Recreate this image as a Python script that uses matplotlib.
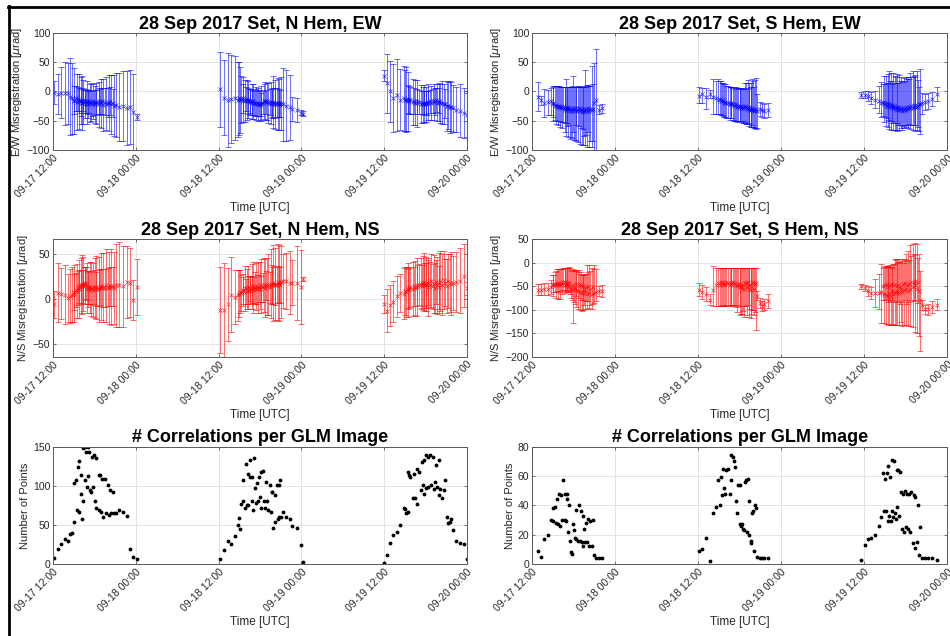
import numpy as np
import matplotlib
matplotlib.use("Agg")
import matplotlib.pyplot as plt
import matplotlib.dates as mdates
from matplotlib.lines import Line2D

plt.rcParams['font.family'] = ['Liberation Sans', 'DejaVu Sans']

# ---------------- data (hours after 2017-09-17 12:00 UTC) ----------------
# northern hemisphere
n_hours = [
    0.1, 0.7, 1.2, 1.7, 2.2, 2.5, 2.8, 3.0, 3.1, 3.3,
    3.5, 3.6, 3.7, 3.8, 4.0, 4.1, 4.2, 4.3, 4.4, 4.6,
    4.7, 4.8, 4.9, 5.0, 5.1, 5.2, 5.4, 5.5, 5.6, 5.8,
    5.9, 6.1, 6.2, 6.3, 6.6, 6.7, 6.8, 7.0, 7.1, 7.3,
    7.6, 7.7, 7.9, 8.1, 8.3, 8.4, 8.7, 8.8, 9.1, 9.6,
    10.2, 10.7, 11.2, 11.6, 12.1,
    24.2, 24.8, 25.3, 25.8, 26.4, 26.8, 27.0, 27.1, 27.3, 27.5,
    27.6, 27.8, 27.9, 28.1, 28.2, 28.3, 28.5, 28.6, 28.8, 28.9,
    29.0, 29.2, 29.3, 29.4, 29.5, 29.7, 29.9, 30.0, 30.1, 30.2,
    30.5, 30.6, 30.7, 30.9, 31.0, 31.1, 31.4, 31.6, 31.7, 31.8,
    31.9, 32.1, 32.2, 32.4, 32.6, 32.7, 32.8, 32.9, 33.0, 33.3,
    33.8, 34.3, 34.7, 35.3, 35.9, 36.3,
    48.0, 48.4, 48.9, 49.3, 49.8, 50.3, 50.8, 51.0, 51.2, 51.4,
    51.5, 51.6, 51.8, 52.2, 52.3, 52.4, 52.7, 52.8, 53.1, 53.3,
    53.5, 53.6, 53.7, 53.8, 54.0, 54.1, 54.3, 54.4, 54.7, 54.8,
    55.0, 55.2, 55.4, 55.5, 55.7, 55.9, 56.0, 56.1, 56.4, 56.6,
    56.8, 57.1, 57.2, 57.5, 57.7, 58.0, 58.4, 59.0, 59.5, 60.0,
]
n_count = [
    8, 19, 25, 32, 29, 38, 40, 103, 54, 107,
    69, 124, 67, 132, 114, 90, 57, 148, 80, 150,
    107, 143, 99, 150, 112, 143, 94, 92, 137, 99,
    139, 81, 135, 72, 114, 69, 114, 67, 109, 60,
    109, 65, 101, 63, 94, 65, 92, 65, 65, 69,
    67, 61, 19, 9, 7,
    6, 18, 30, 25, 36, 50, 59, 45, 77, 80,
    107, 72, 128, 75, 115, 75, 111, 133, 80, 111,
    69, 135, 97, 78, 103, 80, 111, 86, 117, 71,
    119, 80, 71, 105, 80, 69, 101, 67, 92, 92,
    46, 88, 54, 101, 58, 101, 60, 107, 60, 67,
    60, 58, 48, 46, 24, 3,
    1, 12, 27, 37, 41, 50, 71, 70, 65, 118,
    67, 114, 111, 84, 115, 85, 122, 77, 118, 95,
    131, 101, 133, 90, 139, 97, 137, 99, 139, 101,
    137, 96, 105, 126, 99, 88, 133, 96, 84, 94,
    107, 60, 52, 54, 57, 43, 29, 27, 25, 7,
]
n_ew = [
    -2, -4, -2, -3, -3, -9, -12, -14, -16, -12,
    -18, -13, -17, -15, -19, -16, -20, -14, -18, -17,
    -21, -16, -19, -18, -22, -17, -20, -18, -21, -17,
    -19, -22, -18, -20, -16, -22, -18, -20, -17, -23,
    -18, -21, -19, -20, -17, -22, -20, -24, -23, -27,
    -25, -28, -26, -35, -44,
    4, -11, -14, -13, -11, -14, -12, -15, -13, -14,
    -12, -16, -13, -15, -16, -14, -18, -16, -17, -19,
    -17, -20, -19, -21, -20, -22, -21, -23, -22, -20,
    -19, -17, -16, -18, -17, -19, -18, -20, -19, -21,
    -18, -20, -22, -19, -21, -20, -22, -20, -21, -22,
    -24, -27, -30, -32, -36, -38,
    27, 14, 0, -11, -6, -14, -12, -15, -14, -13,
    -17, -14, -15, -18, -16, -19, -17, -20, -18, -21,
    -19, -22, -20, -21, -19, -22, -20, -18, -17, -19,
    -16, -18, -17, -15, -19, -18, -16, -20, -19, -22,
    -21, -25, -24, -27, -26, -29, -31, -33, -37, -40,
]
n_ew_err = [
    20, 34, 44, 54, 52, 66, 60, 24, 56, 22,
    48, 21, 47, 21, 23, 40, 46, 20, 38, 20,
    24, 20, 36, 20, 23, 20, 32, 33, 21, 30,
    21, 32, 21, 35, 22, 38, 22, 42, 22, 45,
    23, 45, 24, 48, 24, 50, 24, 52, 55, 58,
    60, 63, 63, 65, 5,
    64, 64, 80, 75, 72, 64, 62, 56, 40, 38,
    24, 36, 21, 34, 22, 32, 22, 20, 30, 21,
    30, 20, 23, 28, 22, 28, 21, 26, 20, 30,
    20, 30, 32, 21, 32, 34, 22, 36, 24, 25,
    44, 25, 42, 24, 44, 24, 44, 23, 45, 62,
    60, 55, 20, 20, 5, 4,
    10, 50, 52, 58, 62, 52, 56, 52, 55, 24,
    50, 24, 23, 40, 22, 38, 21, 40, 21, 32,
    20, 30, 20, 32, 20, 30, 20, 30, 20, 29,
    20, 30, 23, 20, 32, 33, 21, 33, 36, 34,
    25, 42, 40, 44, 42, 40, 38, 45, 42, 38,
]
n_ns = [
    -6, 7, 6, 5, 1, 3, 5, 8, 6, 10,
    9, 12, 11, 14, 13, 15, 16, 14, 17, 18,
    15, 17, 12, 13, 11, 12, 13, 11, 12, 10,
    13, 12, 11, 13, 12, 11, 13, 14, 12, 13,
    12, 15, 13, 12, 14, 13, 14, 12, 15, 16,
    14, 19, 18, -1, 13,
    -12, -12, -6, 5, 2, 4, 6, 8, 7, 10,
    9, 12, 8, 11, 10, 13, 9, 12, 14, 11,
    13, 10, 12, 14, 11, 13, 12, 15, 11, 14,
    13, 16, 12, 15, 14, 16, 13, 17, 15, 16,
    18, 15, 17, 16, 19, 17, 18, 16, 19, 20,
    20, 18, 18, 18, 13, 22,
    -5, -13, -7, -3, 3, 7, 6, 9, 8, 11,
    10, 12, 13, 11, 14, 12, 15, 13, 16, 17,
    14, 18, 16, 19, 15, 17, 18, 13, 16, 20,
    14, 17, 12, 19, 15, 18, 13, 20, 16, 21,
    18, 14, 20, 18, 17, 18, 19, 20, 26, 12,
]
n_ns_err = [
    15, 33, 28, 33, 27, 30, 30, 20, 32, 19,
    30, 19, 32, 18, 19, 30, 33, 18, 30, 18,
    20, 18, 28, 18, 20, 18, 28, 30, 19, 30,
    19, 33, 19, 35, 20, 36, 20, 37, 21, 38,
    21, 40, 21, 40, 22, 42, 22, 40, 46, 47,
    45, 40, 38, 22, 31,
    48, 52, 40, 42, 30, 28, 26, 24, 20, 18,
    15, 25, 14, 22, 15, 24, 15, 14, 25, 15,
    28, 14, 18, 26, 16, 28, 15, 26, 14, 30,
    16, 30, 32, 16, 32, 34, 17, 38, 20, 22,
    42, 22, 40, 20, 42, 20, 42, 20, 40, 30,
    31, 35, 25, 41, 41, 2,
    10, 24, 23, 23, 23, 21, 28, 27, 28, 22,
    30, 22, 22, 30, 22, 30, 23, 32, 23, 28,
    24, 30, 24, 32, 25, 30, 25, 32, 25, 30,
    25, 32, 28, 24, 32, 33, 24, 33, 34, 32,
    26, 30, 30, 32, 35, 30, 33, 36, 35, 7,
]

# southern hemisphere
s_hours = [
    0.8, 1.25, 1.7, 2.3, 2.7, 3.0, 3.1, 3.3, 3.5, 3.6,
    3.7, 3.9, 4.0, 4.2, 4.4, 4.5, 4.7, 4.8, 4.95, 5.05,
    5.1, 5.2, 5.4, 5.5, 5.6, 5.8, 5.95, 6.05, 6.2, 6.3,
    6.4, 6.7, 6.8, 6.9, 7.1, 7.2, 7.3, 7.4, 7.5, 7.6,
    7.8, 7.9, 8.1, 8.3, 8.4, 8.6, 8.75, 8.9, 9.2, 9.7,
    10.1,
    24.1, 24.6, 25.1, 25.7, 26.2, 26.6, 26.9, 27.1, 27.3, 27.4,
    27.6, 27.8, 27.9, 28.1, 28.3, 28.6, 28.7, 28.8, 29.0, 29.2,
    29.3, 29.5, 29.7, 29.8, 30.0, 30.1, 30.2, 30.3, 30.5, 30.7,
    30.8, 31.0, 31.1, 31.2, 31.3, 31.4, 31.6, 31.7, 31.8, 32.0,
    32.1, 32.3, 32.4, 32.5, 32.9, 33.2, 33.6, 34.1,
    47.6, 48.1, 48.6, 49.0, 49.6, 50.1, 50.5, 50.8, 50.9, 51.0,
    51.2, 51.3, 51.4, 51.5, 51.6, 51.8, 51.9, 52.0, 52.1, 52.2,
    52.3, 52.4, 52.6, 52.7, 52.8, 52.9, 53.0, 53.2, 53.3, 53.5,
    53.6, 53.7, 53.9, 54.0, 54.2, 54.4, 54.5, 54.7, 54.8, 55.0,
    55.2, 55.3, 55.4, 55.6, 55.8, 55.9, 56.1, 56.3, 56.8, 57.3,
    57.8, 58.5,
]
s_count = [
    9, 5, 17, 20, 30, 38, 29, 39, 28, 44,
    27, 48, 26, 47, 30, 57, 30, 48, 29, 48,
    44, 22, 40, 16, 8, 7, 27, 23, 18, 37,
    17, 16, 40, 16, 36, 15, 33, 12, 24, 15,
    28, 15, 31, 12, 29, 12, 30, 6, 4, 4,
    4,
    9, 10, 18, 2, 35, 39, 57, 40, 59, 47,
    65, 52, 48, 64, 65, 48, 57, 74, 73, 70,
    66, 43, 35, 54, 27, 54, 26, 27, 24, 23,
    56, 57, 22, 58, 20, 43, 14, 16, 35, 36,
    9, 40, 38, 5, 4, 4, 4, 4,
    3, 13, 17, 18, 20, 26, 32, 62, 36, 58,
    36, 62, 29, 67, 33, 59, 29, 36, 71, 32,
    70, 35, 31, 64, 39, 64, 33, 63, 49, 24,
    48, 22, 50, 25, 48, 24, 48, 22, 49, 14,
    47, 11, 46, 15, 40, 6, 25, 4, 4, 4,
    4, 3,
]
s_ew = [
    -10, -15, -19, -18, -16, -20, -22, -24, -23, -26,
    -24, -25, -27, -26, -28, -27, -30, -28, -31, -27,
    -29, -32, -28, -33, -30, -33, -29, -32, -30, -28,
    -33, -31, -29, -34, -30, -33, -30, -35, -31, -33,
    -30, -34, -29, -33, -30, -32, -30, -20, -15, -31,
    -29,
    -7, -4, -10, -4, -10, -12, -14, -13, -16, -15,
    -17, -19, -18, -20, -19, -22, -21, -20, -22, -23,
    -24, -22, -26, -25, -27, -24, -28, -26, -29, -27,
    -25, -27, -30, -26, -31, -28, -32, -30, -29, -31,
    -33, -30, -32, -34, -30, -32, -33, -32,
    -6, -6, -8, -11, -14, -16, -20, -18, -22, -19,
    -24, -20, -25, -21, -26, -22, -27, -24, -23, -28,
    -24, -29, -30, -26, -31, -27, -32, -28, -30, -33,
    -29, -32, -28, -31, -27, -30, -26, -29, -25, -28,
    -24, -27, -23, -26, -25, -22, -22, -20, -18, -16,
    -13, -4,
]
s_ew_lo = [
    23, 8, 25, 22, 25, 24, 28, 24, 32, 24,
    34, 25, 33, 26, 35, 25, 40, 26, 45, 27,
    30, 46, 30, 48, 47, 46, 40, 50, 52, 30,
    52, 55, 30, 56, 32, 58, 34, 57, 45, 58,
    45, 60, 40, 62, 55, 62, 55, 80, 85, 8,
    8,
    12, 15, 20, 8, 28, 26, 25, 26, 24, 25,
    25, 24, 26, 25, 26, 26, 25, 25, 26, 27,
    26, 28, 26, 25, 24, 26, 24, 25, 24, 26,
    27, 28, 26, 27, 28, 28, 28, 30, 28, 30,
    30, 32, 32, 28, 12, 12, 12, 12,
    5, 6, 8, 10, 15, 20, 24, 24, 30, 25,
    35, 26, 36, 27, 38, 28, 38, 30, 28, 38,
    30, 36, 35, 28, 36, 30, 34, 30, 32, 32,
    30, 30, 30, 30, 30, 32, 30, 35, 32, 38,
    33, 40, 34, 40, 36, 45, 50, 18, 14, 14,
    12, 12,
]
s_ew_hi = [
    26, 8, 23, 20, 22, 30, 30, 33, 32, 35,
    33, 34, 35, 34, 36, 35, 38, 36, 52, 35,
    37, 40, 36, 40, 38, 42, 55, 40, 38, 36,
    40, 40, 38, 42, 38, 40, 38, 42, 40, 70,
    38, 45, 40, 42, 40, 75, 42, 68, 88, 8,
    8,
    14, 10, 15, 6, 32, 30, 36, 30, 34, 30,
    32, 32, 30, 30, 28, 30, 28, 27, 28, 30,
    28, 30, 32, 30, 32, 28, 34, 30, 33, 32,
    40, 42, 34, 45, 36, 42, 40, 45, 50, 48,
    40, 50, 55, 30, 12, 12, 12, 12,
    5, 6, 8, 10, 15, 26, 36, 30, 48, 32,
    50, 35, 55, 36, 60, 40, 58, 36, 40, 60,
    38, 55, 55, 40, 60, 42, 60, 45, 55, 50,
    45, 55, 45, 55, 48, 55, 48, 60, 50, 62,
    50, 55, 48, 60, 45, 30, 60, 18, 14, 14,
    12, 12,
]
s_ns = [
    -57, -57, -55, -55, -52, -45, -48, -44, -47, -42,
    -46, -43, -48, -42, -45, -40, -47, -41, -48, -42,
    -44, -50, -43, -52, -55, -58, -48, -54, -56, -45,
    -58, -60, -46, -62, -48, -63, -50, -65, -55, -62,
    -52, -66, -50, -64, -55, -66, -52, -64, -62, -60,
    -60,
    -57, -62, -66, -78, -57, -48, -42, -47, -40, -45,
    -42, -46, -44, -41, -43, -47, -44, -42, -40, -43,
    -45, -48, -50, -44, -52, -45, -50, -53, -48, -55,
    -43, -42, -52, -40, -55, -46, -58, -50, -42, -40,
    -55, -44, -42, -70, -85, -92, -88, -81,
    -50, -53, -60, -64, -64, -64, -62, -50, -66, -48,
    -68, -45, -70, -52, -65, -48, -70, -60, -45, -66,
    -48, -62, -65, -50, -60, -46, -64, -52, -55, -62,
    -45, -58, -42, -55, -48, -60, -44, -56, -40, -52,
    -42, -48, -38, -55, -40, -60, -78, -90, -99, -99,
    -94, -89,
]
s_ns_lo = [
    12, 12, 13, 13, 15, 18, 23, 18, 28, 17,
    30, 18, 28, 18, 22, 17, 18, 16, 15, 16,
    16, 12, 16, 14, 20, 22, 80, 30, 32, 25,
    35, 38, 28, 38, 30, 40, 30, 36, 35, 37,
    30, 33, 32, 33, 35, 33, 35, 22, 20, 10,
    12,
    14, 14, 15, 12, 35, 44, 50, 45, 52, 45,
    50, 46, 47, 48, 47, 45, 47, 48, 50, 47,
    47, 45, 55, 45, 58, 47, 58, 55, 55, 60,
    48, 50, 60, 50, 60, 52, 60, 58, 58, 60,
    55, 60, 100, 10, 10, 10, 12, 14,
    5, 7, 10, 12, 30, 35, 66, 30, 62, 30,
    62, 32, 62, 32, 66, 33, 62, 70, 34, 66,
    35, 70, 68, 34, 72, 36, 68, 36, 70, 72,
    38, 75, 38, 78, 40, 74, 40, 78, 40, 85,
    40, 100, 42, 95, 45, 95, 110, 10, 10, 12,
    12, 12,
]
s_ns_hi = [
    12, 12, 13, 13, 15, 20, 23, 25, 30, 28,
    32, 30, 34, 30, 32, 30, 36, 30, 38, 32,
    34, 40, 34, 42, 40, 40, 35, 38, 38, 30,
    40, 40, 30, 38, 28, 38, 25, 40, 30, 38,
    28, 62, 30, 60, 38, 55, 40, 60, 50, 10,
    12,
    14, 14, 15, 12, 50, 38, 32, 36, 30, 35,
    32, 36, 34, 31, 33, 37, 34, 32, 30, 33,
    35, 38, 40, 34, 42, 35, 40, 43, 38, 45,
    33, 32, 42, 30, 45, 36, 48, 40, 32, 30,
    45, 34, 32, 10, 10, 10, 12, 14,
    5, 7, 10, 12, 30, 40, 60, 40, 58, 42,
    60, 38, 62, 45, 60, 40, 62, 50, 40, 64,
    45, 70, 72, 50, 68, 48, 72, 55, 60, 70,
    45, 65, 50, 75, 52, 85, 50, 95, 55, 92,
    60, 90, 55, 95, 50, 80, 60, 10, 10, 12,
    12, 12,
]

t0 = np.datetime64('2017-09-17T12:00')
t_end = np.datetime64('2017-09-20T00:00')
tick_times = [t0 + np.timedelta64(12 * k, 'h') for k in range(6)]


def to_time(hours):
    return t0 + (np.array(hours) * 60).round().astype(int).astype('timedelta64[m]')


n_t = to_time(n_hours)
s_t = to_time(s_hours)

# ---------------- figure ----------------
fig = plt.figure(figsize=(9.5, 6.36), dpi=100)
lefts = [0.0558, 0.56]
bottoms = [0.764, 0.439, 0.1132]
w = [0.4358, 0.437]
h = 0.1845

axes = [[fig.add_axes([lefts[c], bottoms[r], w[c], h]) for c in range(2)] for r in range(3)]

grey = '#262626'


def style(ax, title, ylabel, ylim, yticks):
    ax.set_xlim(t0, t_end)
    ax.set_xticks(tick_times)
    ax.xaxis.set_major_formatter(mdates.DateFormatter('%m-%d %H:%M'))
    ax.set_ylim(*ylim)
    ax.set_yticks(yticks)
    ax.grid(True, color='#e3e3e3', linewidth=0.7)
    ax.set_axisbelow(True)
    for s in ax.spines.values():
        s.set_color('#5a5a5a')
        s.set_linewidth(0.7)
    ax.tick_params(direction='in', top=True, right=True, length=2.5, width=0.6,
                   color='#5a5a5a', labelsize=7.5, labelcolor=grey, pad=2)
    for lab in ax.get_xticklabels():
        lab.set_rotation(45)
        lab.set_ha('right')
        lab.set_rotation_mode('anchor')
    ax.set_title(title, fontsize=13, fontweight='bold', pad=3)
    ax.set_ylabel(ylabel, fontsize=8, color=grey, labelpad=2)
    ax.set_xlabel('Time [UTC]', fontsize=8.5, color=grey, labelpad=2)


def err(ax, t, y, yerr, color):
    ax.errorbar(t, y, yerr=yerr, fmt='x', color=color, ecolor=color,
                elinewidth=0.5, capsize=2, capthick=0.5, markersize=3,
                markeredgewidth=0.5, alpha=0.8)


err(axes[0][0], n_t, n_ew, n_ew_err, 'blue')
style(axes[0][0], '28 Sep 2017 Set, N Hem, EW', r'E/W Misregistration [$\mu$rad]',
      (-100, 100), [-100, -50, 0, 50, 100])

err(axes[0][1], s_t, s_ew, [s_ew_lo, s_ew_hi], 'blue')
style(axes[0][1], '28 Sep 2017 Set, S Hem, EW', r'E/W Misregistration [$\mu$rad]',
      (-100, 100), [-100, -50, 0, 50, 100])

err(axes[1][0], n_t, n_ns, n_ns_err, 'red')
style(axes[1][0], '28 Sep 2017 Set, N Hem, NS', r'N/S Misregistration [$\mu$rad]',
      (-64, 66), [-50, 0, 50])

err(axes[1][1], s_t, s_ns, [s_ns_lo, s_ns_hi], 'red')
style(axes[1][1], '28 Sep 2017 Set, S Hem, NS', r'N/S Misregistration [$\mu$rad]',
      (-200, 50), [-200, -150, -100, -50, 0, 50])

axes[2][0].plot(n_t, n_count, '.', color='black', markersize=3.5)
style(axes[2][0], '# Correlations per GLM Image', 'Number of Points',
      (0, 150), [0, 50, 100, 150])

axes[2][1].plot(s_t, s_count, '.', color='black', markersize=3.5)
style(axes[2][1], '# Correlations per GLM Image', 'Number of Points',
      (0, 80), [0, 20, 40, 60, 80])

# screenshot frame on the left and top
fig.add_artist(Line2D([0.0095, 0.0095], [0, 0.99], transform=fig.transFigure,
                      color='black', linewidth=2))
fig.add_artist(Line2D([0.0085, 1.0], [0.989, 0.989], transform=fig.transFigure,
                      color='black', linewidth=2))

fig.savefig('out.png', dpi=100)
